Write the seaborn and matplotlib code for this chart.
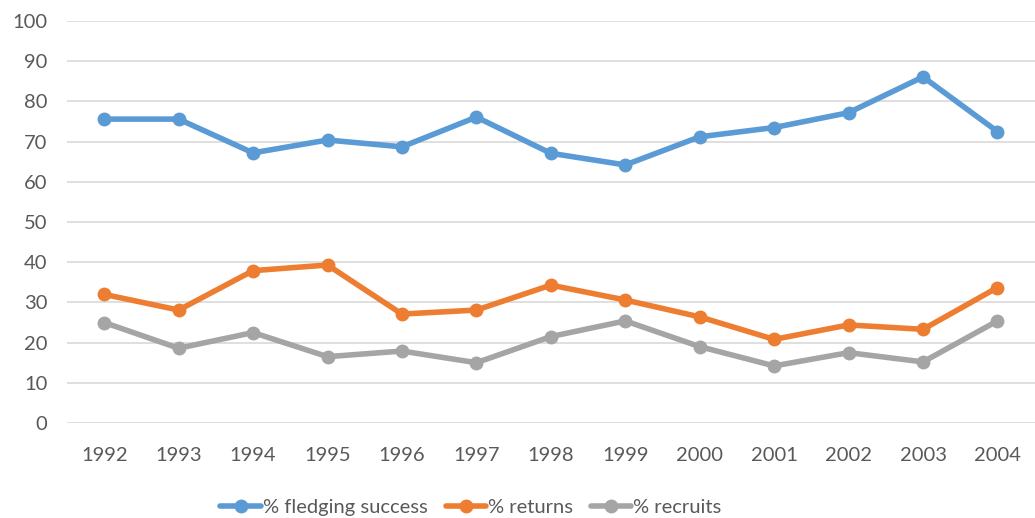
import pandas as pd
import matplotlib
matplotlib.use('Agg')
import matplotlib.pyplot as plt
import seaborn as sns

# valeurs
years = ['1992', '1993', '1994', '1995', '1996', '1997', '1998',
         '1999', '2000', '2001', '2002', '2003', '2004']
fledging = [75.6, 75.6, 67.2, 70.4, 68.7, 76.1, 67.1, 64.2, 71.2, 73.5, 77.2, 86.1, 72.5]
returns = [32.0, 28.1, 37.9, 39.3, 27.1, 28.1, 34.3, 30.6, 26.4, 20.8, 24.4, 23.3, 33.7]
recruits = [25.0, 18.6, 22.5, 16.5, 17.9, 15.0, 21.5, 25.4, 19.0, 14.2, 17.5, 15.2, 25.4]
series_names = ['% fledging success', '% returns', '% recruits']
colors = ['#5B9BD5', '#ED7D31', '#A5A5A5']

df = pd.DataFrame({'year': years, series_names[0]: fledging,
                   series_names[1]: returns, series_names[2]: recruits})
df['pos'] = range(len(years))
long_df = df.melt(id_vars=['year', 'pos'], var_name='serie', value_name='valeur')

sns.set_style('white')
plt.rcParams['font.family'] = ['Lato', 'DejaVu Sans']

fig = plt.figure(figsize=(10.35, 5.18), dpi=100)
ax = fig.add_axes([0.0647, 0.1834, 0.935, 0.776])

sns.lineplot(data=long_df, x='pos', y='valeur', hue='serie', hue_order=series_names,
             palette=colors, marker='o', markersize=10, markeredgewidth=0,
             linewidth=4, ax=ax, legend=False, zorder=3)

ax.set_xlim(-0.5, len(years) - 0.5)
ax.set_ylim(0, 100)
ax.set_yticks(range(0, 101, 10))
ax.set_xticks(range(len(years)))
ax.set_xticklabels(years)
ax.grid(axis='y', color='#D9D9D9', linewidth=1.2)
ax.set_axisbelow(True)
for s in ax.spines.values():
    s.set_visible(False)
ax.tick_params(axis='both', length=0, labelsize=14.5, labelcolor='#595959')
ax.tick_params(axis='y', pad=14)
ax.tick_params(axis='x', pad=17)
ax.set_xlabel('')
ax.set_ylabel('')

handles = [plt.Line2D([], [], color=c, linewidth=4, marker='o', markersize=10,
                      markeredgewidth=0) for c in colors]
fig.legend(handles, series_names, loc='center', bbox_to_anchor=(0.455, 0.02), ncol=3,
           frameon=False, fontsize=14.5, handlelength=2.0, handletextpad=0.1,
           columnspacing=0.9, labelcolor='#595959')

fig.savefig('out.png', dpi=100)
plt.close()
